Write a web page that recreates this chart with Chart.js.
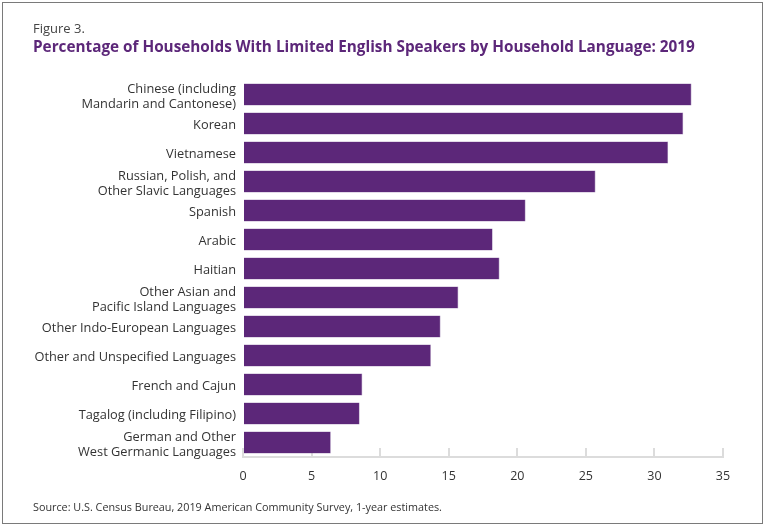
<!DOCTYPE html>
<html>
<head>
<meta charset="utf-8">
<script src="https://cdn.jsdelivr.net/npm/chart.js@4"></script>
<style>
  html, body { margin: 0; padding: 0; background: #fff; }
  #frame {
    position: absolute; left: 2px; top: 2px; width: 761px; height: 522px;
    border: 1.5px solid #7a7a7a; box-sizing: border-box;
  }
  #wrap { position: absolute; left: 0; top: 0; width: 768px; height: 530px; }
  .txt { position: absolute; left: 33px; font-family: "Open Sans", sans-serif; white-space: nowrap; }
  #fig { top: 19px; font-size: 13px; color: #444; }
  #title { top: 36px; font-size: 15.3px; font-weight: 700; color: #5c2779; }
  #source { top: 499px; font-size: 10.8px; color: #333; }
</style>
</head>
<body>
<div id="frame"></div>
<div id="wrap"><canvas id="chart" width="768" height="530"></canvas></div>
<div class="txt" id="fig">Figure 3.</div>
<div class="txt" id="title">Percentage of Households With Limited English Speakers by Household Language: 2019</div>
<div class="txt" id="source">Source: U.S. Census Bureau, 2019 American Community Survey, 1-year estimates.</div>
<script>
const languages = [
    ['Chinese (including', 'Mandarin and Cantonese)'],
    'Korean',
    'Vietnamese',
    ['Russian, Polish, and', 'Other Slavic Languages'],
    'Spanish',
    'Arabic',
    'Haitian',
    ['Other Asian and', 'Pacific Island Languages'],
    'Other Indo-European Languages',
    'Other and Unspecified Languages',
    'French and Cajun',
    'Tagalog (including Filipino)',
    ['German and Other', 'West Germanic Languages']
];
const percentLimited = [32.7, 32.1, 31.0, 25.7, 20.6, 18.2, 18.7, 15.7, 14.4, 13.7, 8.7, 8.5, 6.4];
const xTicks = [0, 5, 10, 15, 20, 25, 30, 35];

const ctx = document.getElementById('chart').getContext('2d');
new Chart(ctx, {
    type: 'bar',
    data: {
        labels: languages,
        datasets: [{
            data: percentLimited,
            backgroundColor: '#5c2779',
            borderColor: '#8a6aa3',
            borderWidth: 0.6,
            categoryPercentage: 1,
            barPercentage: 0.76
        }]
    },
    options: {
        indexAxis: 'y',
        responsive: false,
        animation: false,
        layout: { padding: { top: 80, bottom: 43, left: 0, right: 45 } },
        scales: {
            x: {
                min: 0,
                max: 35,
                afterBuildTicks: scale => { scale.ticks = xTicks.map(v => ({ value: v })); },
                afterFit: scale => { scale.height = 30; },
                grid: { drawOnChartArea: false, tickLength: -9, lineWidth: 2, color: '#dcdcdc' },
                border: { display: true, color: '#dcdcdc', width: 2 },
                ticks: { color: '#333', padding: 21, font: { family: 'Open Sans', size: 12.5 } }
            },
            y: {
                afterFit: scale => { scale.width = 243; },
                grid: { display: false, drawTicks: false },
                border: { display: false },
                ticks: { color: '#333', padding: 7, labelOffset: 2, autoSkip: false, font: { family: 'Open Sans', size: 12.8, lineHeight: 1.15 } }
            }
        },
        plugins: {
            legend: { display: false },
            tooltip: { enabled: false }
        }
    }
});
</script>
</body>
</html>
